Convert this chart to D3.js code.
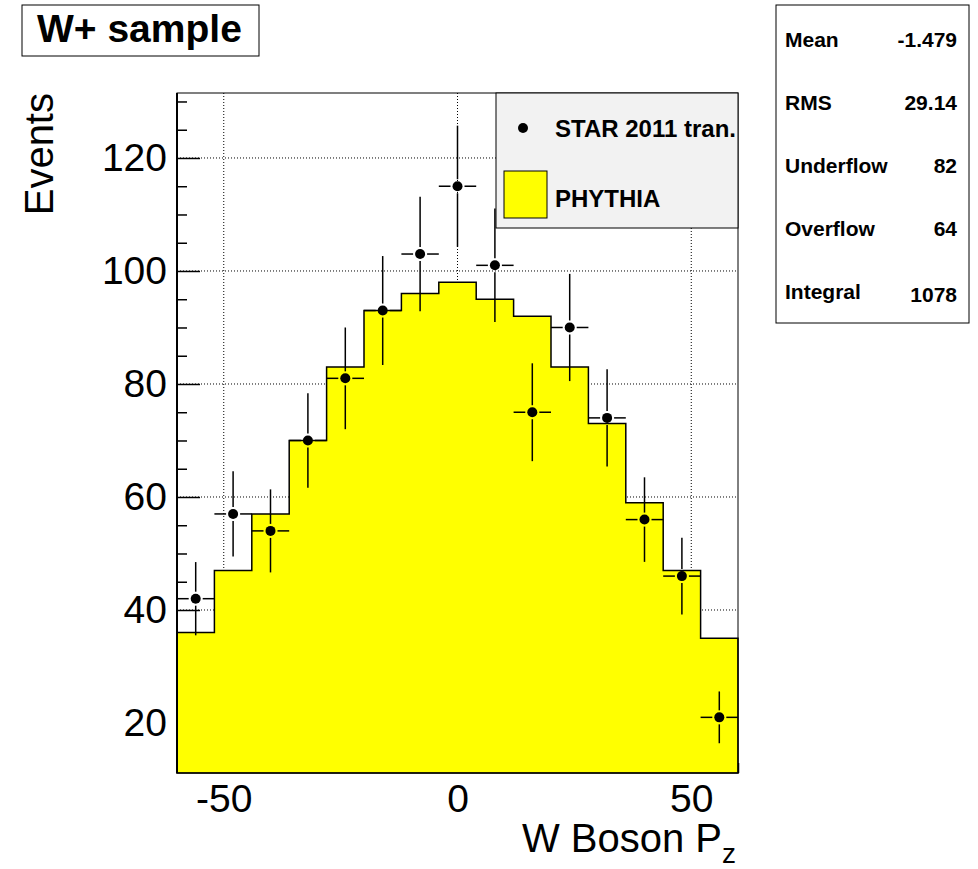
<!DOCTYPE html>
<html>
<head>
<meta charset="utf-8">
<script src="https://cdn.jsdelivr.net/npm/d3@7"></script>
<style>
  body { margin: 0; background: #fff; }
  text { font-family: "Liberation Sans", Arial, Helvetica, sans-serif; }
</style>
</head>
<body>
<script>
// W boson Pz histogram, bins of width 8
const binEdges = [-60, -52, -44, -36, -28, -20, -12, -4, 4, 12, 20, 28, 36, 44, 52, 60];
const pythia = [36, 47, 57, 70, 83, 93, 96, 98, 95, 92, 83, 73, 59, 47, 35];
const star = [42, 57, 54, 70, 81, 93, 103, 115, 101, 75, 90, 74, 56, 46, 21];
const yTicks = [20, 40, 60, 80, 100, 120];
const xTicks = [-50, 0, 50];
const statLabels = ["Mean", "RMS", "Underflow", "Overflow", "Integral"];
const statValues = ["-1.479", "29.14", "82", "64", "1078"];

let width = 978, height = 869;
let frame = {left: 177, right: 738, top: 93, bottom: 773};

let svg = d3.select('body')
    .append('svg')
    .attr('width', width)
    .attr('height', height);

let xScale = d3.scaleLinear()
    .domain([-60, 60])
    .range([frame.left, frame.right]);

let yScale = d3.scaleLinear()
    .domain([11.15, 131.5])
    .range([frame.bottom, frame.top]);

// dotted grid
let grid = svg.append('g')
    .attr('stroke', '#000')
    .attr('stroke-width', 1)
    .attr('stroke-dasharray', '1,2');

grid.selectAll('.gx')
    .data(xTicks)
    .enter()
    .append('line')
    .attr('x1', d => xScale(d)).attr('x2', d => xScale(d))
    .attr('y1', frame.top).attr('y2', frame.bottom);

grid.selectAll('.gy')
    .data(yTicks)
    .enter()
    .append('line')
    .attr('x1', frame.left).attr('x2', frame.right)
    .attr('y1', d => yScale(d)).attr('y2', d => yScale(d));

// axes (ticks point inside the frame)
let yAxis = svg.append('g')
    .attr('transform', `translate(${frame.left}, 0)`)
    .call(d3.axisLeft(yScale).tickValues(yTicks).tickSizeInner(-23).tickSizeOuter(0).tickPadding(10));

svg.append('g')
    .attr('transform', `translate(${frame.left}, 0)`)
    .call(d3.axisLeft(yScale).tickValues(d3.range(15, 131, 5).filter(d => d % 20 != 0))
        .tickSizeInner(-10).tickSizeOuter(0).tickFormat(''))
    .select('.domain').remove();

let xAxis = svg.append('g')
    .attr('transform', `translate(0, ${frame.bottom})`)
    .call(d3.axisBottom(xScale).tickValues(xTicks).tickFormat(d => String(d))
        .tickSizeInner(-23).tickSizeOuter(0).tickPadding(11));

svg.append('g')
    .attr('transform', `translate(0, ${frame.bottom})`)
    .call(d3.axisBottom(xScale).tickValues(d3.range(-60, 61, 10).filter(d => d % 50 != 0))
        .tickSizeInner(-10).tickSizeOuter(0).tickFormat(''))
    .select('.domain').remove();

svg.selectAll('.domain').remove();
svg.selectAll('.tick line').attr('stroke', '#000').attr('stroke-width', 1.5);
svg.selectAll('.tick text')
    .style('font-size', '39px')
    .attr('fill', '#000');

// PHYTHIA histogram (step outline)
let histPath = d3.path();
histPath.moveTo(xScale(binEdges[0]), yScale.range()[0]);
pythia.forEach((v, i) => {
    histPath.lineTo(xScale(binEdges[i]), yScale(v));
    histPath.lineTo(xScale(binEdges[i + 1]), yScale(v));
});
histPath.lineTo(xScale(binEdges[binEdges.length - 1]), yScale.range()[0]);

svg.append('path')
    .attr('d', histPath.toString() + 'Z')
    .attr('fill', '#ffff00')
    .attr('stroke', '#000')
    .attr('stroke-width', 1.5);

// STAR points with sqrt(N) errors
let gap = 7;
let pts = svg.append('g').attr('stroke', '#000').attr('stroke-width', 1.5);
star.forEach((v, i) => {
    let lo = binEdges[i], hi = binEdges[i + 1];
    let cx = xScale((lo + hi) / 2), cy = yScale(v);
    let err = Math.sqrt(v);
    pts.append('line').attr('x1', cx).attr('x2', cx).attr('y1', yScale(v + err)).attr('y2', cy - gap);
    pts.append('line').attr('x1', cx).attr('x2', cx).attr('y1', cy + gap).attr('y2', yScale(v - err));
    pts.append('line').attr('x1', xScale(lo)).attr('x2', cx - gap).attr('y1', cy).attr('y2', cy);
    pts.append('line').attr('x1', cx + gap).attr('x2', xScale(hi)).attr('y1', cy).attr('y2', cy);
    pts.append('circle').attr('cx', cx).attr('cy', cy).attr('r', 5).attr('fill', '#000').attr('stroke', 'none');
});

// frame
svg.append('rect')
    .attr('x', frame.left).attr('y', frame.top)
    .attr('width', frame.right - frame.left).attr('height', frame.bottom - frame.top)
    .attr('fill', 'none').attr('stroke', '#000').attr('stroke-width', 1);
svg.append('line')
    .attr('x1', frame.left).attr('x2', frame.left)
    .attr('y1', frame.top).attr('y2', frame.bottom)
    .attr('stroke', '#000').attr('stroke-width', 2);

// legend
let leg = {x: 496, y: 93, w: 242, h: 135};
svg.append('clipPath').attr('id', 'legclip')
    .append('rect').attr('x', leg.x).attr('y', leg.y).attr('width', leg.w).attr('height', leg.h);
let legend = svg.append('g');
legend.append('rect')
    .attr('x', leg.x).attr('y', leg.y).attr('width', leg.w).attr('height', leg.h)
    .attr('fill', '#f2f2f2').attr('stroke', '#000').attr('stroke-width', 1);
legend.append('circle').attr('cx', 523).attr('cy', 128).attr('r', 5).attr('fill', '#000');
legend.append('text')
    .attr('x', 555).attr('y', 137)
    .attr('clip-path', 'url(#legclip)')
    .style('font-size', '24px').style('font-weight', 'bold')
    .text('STAR 2011 tran.');
legend.append('rect')
    .attr('x', 504).attr('y', 171).attr('width', 43).attr('height', 47)
    .attr('fill', '#ffff00').attr('stroke', '#000').attr('stroke-width', 1);
legend.append('text')
    .attr('x', 555).attr('y', 207)
    .style('font-size', '24px').style('font-weight', 'bold')
    .text('PHYTHIA');

// stats box
let stats = svg.append('g');
stats.append('rect')
    .attr('x', 776).attr('y', 5).attr('width', 193).attr('height', 318)
    .attr('fill', '#fff').attr('stroke', '#000').attr('stroke-width', 1);
stats.selectAll('.lab')
    .data(statLabels)
    .enter()
    .append('text')
    .attr('x', 785)
    .attr('y', (d, i) => 47 + i * 63)
    .style('font-size', '21px').style('font-weight', 'bold')
    .text(d => d);
stats.selectAll('.val')
    .data(statValues)
    .enter()
    .append('text')
    .attr('x', 957)
    .attr('y', (d, i) => 47 + i * 63 + (i == 4 ? 3 : 0))
    .attr('text-anchor', 'end')
    .style('font-size', '21px').style('font-weight', 'bold')
    .text(d => d);

// title box
svg.append('rect')
    .attr('x', 22).attr('y', 5).attr('width', 237).attr('height', 51)
    .attr('fill', '#fff').attr('stroke', '#000').attr('stroke-width', 1);
svg.append('text')
    .attr('x', 37).attr('y', 42)
    .style('font-size', '39px').style('font-weight', 'bold')
    .text('W+ sample');

// axis titles
svg.append('text')
    .attr('transform', `translate(53, ${frame.top}) rotate(-90)`)
    .attr('text-anchor', 'end')
    .style('font-size', '40px')
    .text('Events');

let xTitle = svg.append('text')
    .attr('x', frame.right - 2).attr('y', 852)
    .attr('text-anchor', 'end')
    .style('font-size', '40px');
xTitle.append('tspan').text('W Boson P');
xTitle.append('tspan').attr('dy', 11).style('font-size', '28px').text('z');
</script>
</body>
</html>
